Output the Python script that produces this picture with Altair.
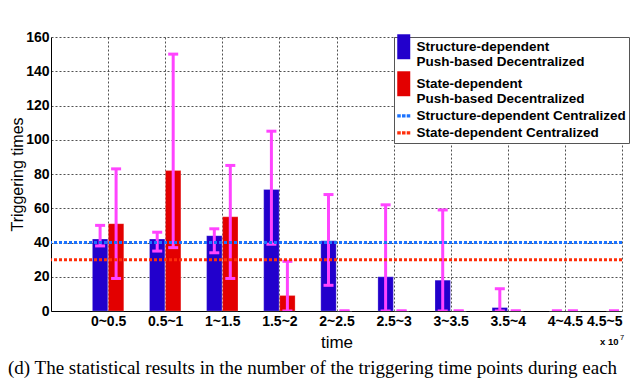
import json
import altair as alt
import pandas as pd

# ---------------- data ----------------
groups = ["0~0.5", "0.5~1", "1~1.5", "1.5~2", "2~2.5",
          "2.5~3", "3~3.5", "3.5~4", "4~4.5", "4.5~5"]

struct_mean = [42, 42, 44, 71, 41, 20, 18, 2, 0, 0]
struct_lo = [38, 35, 34, 39, 15, 0, 0, 0, 0, 0]
struct_hi = [50, 46, 48, 105, 68, 62, 59, 13, 0, 0]

state_mean = [51, 82, 55, 9, 0, 0, 0, 0, 0, 0]
state_lo = [19, 37, 19, 0, 0, 0, 0, 0, 0, 0]
state_hi = [83, 150, 85, 29, 0, 0, 0, 0, 0, 0]

central_names = ["Structure-dependent Centralized", "State-dependent Centralized"]
central_values = [40, 30]

bar_names = ["Structure-dependent|Push-based Decentralized",
             "State-dependent|Push-based Decentralized"]

y_ticks = [0, 20, 40, 60, 80, 100, 120, 140, 160]

# ---------------- styling ----------------
BLUE = "#2200cc"
RED = "#e30000"
MAGENTA = "#ff44ff"
LINE_BLUE = "#1a72ff"
LINE_RED = "#ff2e0a"

rows = []
for i, g in enumerate(groups):
    rows.append({"g": i + 1, "series": bar_names[0], "side": -1,
                 "mean": struct_mean[i], "lo": struct_lo[i], "hi": struct_hi[i]})
    rows.append({"g": i + 1, "series": bar_names[1], "side": 1,
                 "mean": state_mean[i], "lo": state_lo[i], "hi": state_hi[i]})
bars_df = pd.DataFrame(rows)
lines_df = pd.DataFrame({"name": central_names, "value": central_values})
legend_names = bar_names + central_names
legend_df = pd.DataFrame({"key": legend_names})

x_scale = alt.Scale(domain=[0, 10], nice=False, zero=False)
y_scale = alt.Scale(domain=[0, 160], nice=False)

label_expr = json.dumps(groups) + "[datum.value - 1]"

x_axis = alt.Axis(values=list(range(1, 11)), tickCount=20, labelExpr=label_expr,
                  title="time", grid=True, ticks=False, labelPadding=3,
                  labelFont="Liberation Sans", labelFontWeight="bold", labelFontSize=14,
                  titleFont="Liberation Sans", titleFontWeight="normal", titleFontSize=17,
                  titlePadding=6, labelColor="black", titleColor="black",
                  domainColor="black")
y_axis = alt.Axis(values=y_ticks, tickCount=20, title="Triggering times", grid=True,
                  ticks=False, labelPadding=2, labelFont="Liberation Sans",
                  labelFontWeight="bold", labelFontSize=14, titleFont="Liberation Sans",
                  titleFontWeight="normal", titleFontSize=16, titlePadding=0,
                  labelColor="black", titleColor="black", domainColor="black")

base = alt.Chart(bars_df).transform_calculate(
    x0="datum.g + datum.side * 0.005",
    x1="datum.g + datum.side * 0.275",
    xc="datum.g + datum.side * 0.14",
)

bars = base.mark_bar(stroke="white", strokeWidth=0.4, strokeOpacity=0.6).encode(
    x=alt.X("x0:Q", scale=x_scale, axis=x_axis),
    x2="x1:Q",
    y=alt.Y("mean:Q", scale=y_scale, axis=y_axis),
    y2=alt.datum(0),
    fill=alt.Fill("series:N", scale=alt.Scale(domain=bar_names, range=[BLUE, RED]),
                  legend=None),
)

err = base.mark_rule(color=MAGENTA, strokeWidth=3).encode(
    x=alt.X("xc:Q", scale=x_scale, axis=x_axis),
    y=alt.Y("lo:Q", scale=y_scale, axis=y_axis),
    y2="hi:Q",
)

caps = base.transform_fold(["lo", "hi"], as_=["which", "v"]).mark_tick(
    orient="horizontal", color=MAGENTA, size=10, thickness=3, opacity=1, clip=True
).encode(
    x=alt.X("xc:Q", scale=x_scale, axis=x_axis),
    y=alt.Y("v:Q", scale=y_scale, axis=y_axis),
)

lines = alt.Chart(lines_df).mark_rule(strokeWidth=3, strokeDash=[3, 2]).encode(
    y=alt.Y("value:Q", scale=y_scale, axis=y_axis),
    stroke=alt.Stroke("name:N", scale=alt.Scale(domain=central_names,
                                                range=[LINE_BLUE, LINE_RED]),
                      legend=None),
)

rect_path = "M-1,-1.92H1V1.92H-1Z"
dots_path = ("M-1,-0.25H-0.46V0.25H-1Z M-0.27,-0.25H0.27V0.25H-0.27Z "
             "M0.46,-0.25H1V0.25H0.46Z")

leg = alt.Legend(title=None, orient="none", legendX=343, legendY=0, padding=3,
                 fillColor="white", strokeColor="#555", rowPadding=2,
                 symbolSize=169, symbolStrokeWidth=0, symbolOpacity=1,
                 labelOffset=6, labelLimit=400, labelFont="Liberation Sans",
                 labelFontWeight="bold", labelFontSize=13.5, labelColor="black",
                 labelExpr="split(datum.label, '|')")

legend_layer = alt.Chart(legend_df).mark_point(filled=True, opacity=0).encode(
    x=alt.value(0), y=alt.value(0),
    color=alt.Color("key:N", scale=alt.Scale(domain=legend_names,
                                             range=[BLUE, RED, LINE_BLUE, LINE_RED]),
                    legend=leg),
    shape=alt.Shape("key:N", scale=alt.Scale(domain=legend_names,
                                             range=[rect_path, rect_path, dots_path, dots_path]),
                    legend=leg),
)

exp_base = alt.Chart(pd.DataFrame({"t": ["x 10"]})).mark_text(
    font="Liberation Sans", fontWeight="bold", fontSize=9.5, align="left",
    baseline="alphabetic", color="black"
).encode(text="t:N", x=alt.value(549), y=alt.value(308))
exp_sup = alt.Chart(pd.DataFrame({"t": ["7"]})).mark_text(
    font="Liberation Sans", fontSize=7.5, align="left", baseline="alphabetic",
    color="black"
).encode(text="t:N", x=alt.value(569), y=alt.value(303))

caption = alt.Chart(pd.DataFrame({"t": [
    "(d)  The statistical results in the number of the triggering time points during each"
]})).mark_text(font="Liberation Serif", fontSize=19, align="left",
               baseline="alphabetic", color="black").encode(
    text="t:N", x=alt.value(-43), y=alt.value(337))

chart = alt.layer(bars, err, caps, lines, legend_layer, exp_base, exp_sup, caption).properties(
    width=571, height=274,
    autosize=alt.AutoSizeParams(type="none"),
    padding={"left": 43, "top": 29, "right": 10, "bottom": 69},
).configure_view(stroke=None).configure_axis(
    gridDash=[2, 2], gridColor="#333", gridOpacity=0.85, gridWidth=1, domainWidth=1
)

chart.save("out.html", embed_options={"renderer": "svg", "actions": False})
